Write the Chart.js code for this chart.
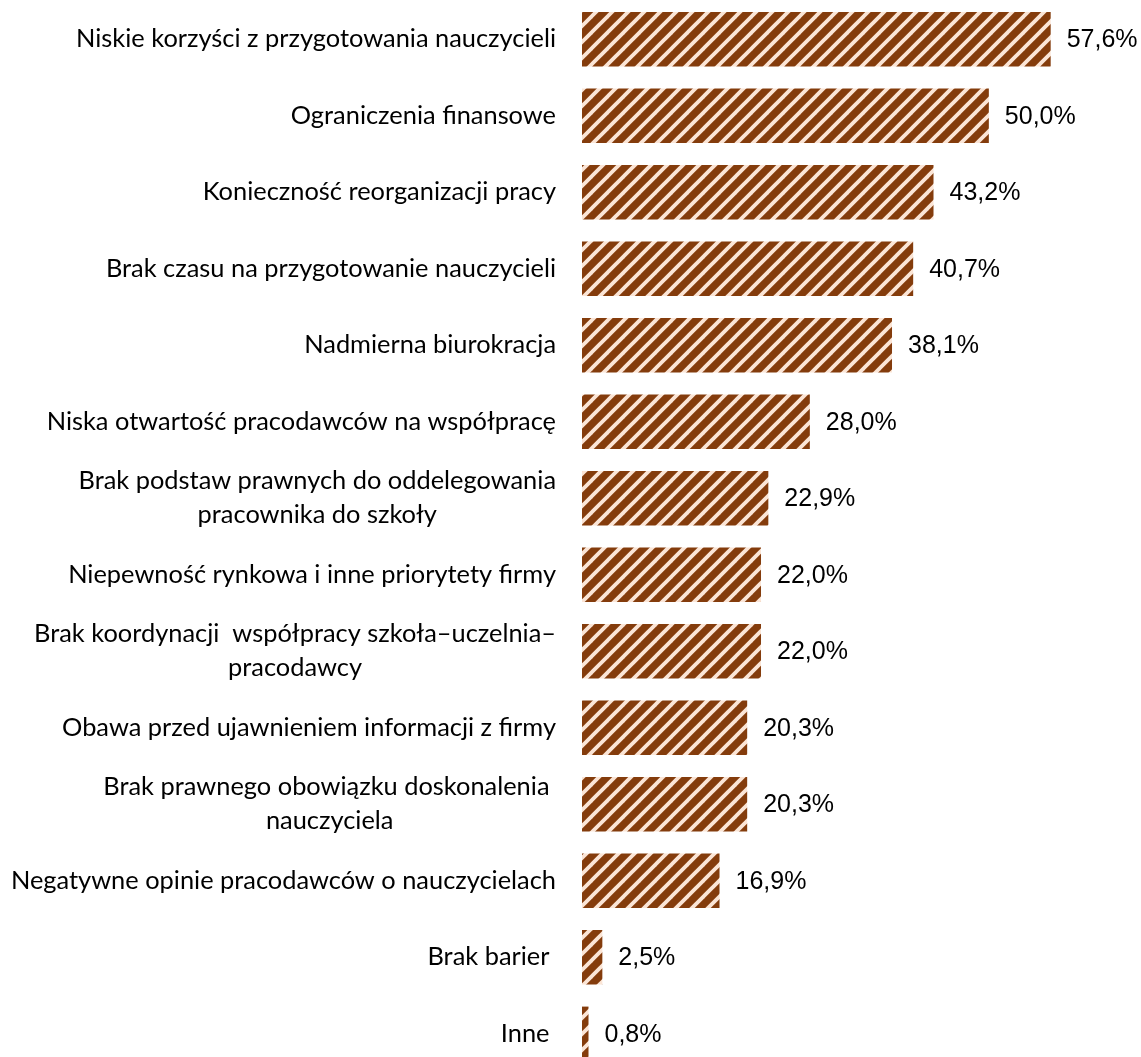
<!DOCTYPE html>
<html lang="pl">
<head>
<meta charset="utf-8">
<title>Bariery współpracy</title>
<script src="https://cdn.jsdelivr.net/npm/chart.js@4.4.1/dist/chart.umd.min.js"></script>
<style>
    html, body {
        margin: 0;
        padding: 0;
        background: #ffffff;
        overflow: hidden;
    }
    #wrap {
        position: relative;
        width: 1141px;
        height: 1072px;
    }
</style>
</head>
<body>
<div id="wrap"><canvas id="chart"></canvas></div>
<script>
/**
 * Category labels, one array of lines per bar.
 */
const categories = [
    ['Niskie korzyści z przygotowania nauczycieli'],
    ['Ograniczenia finansowe'],
    ['Konieczność reorganizacji pracy'],
    ['Brak czasu na przygotowanie nauczycieli'],
    ['Nadmierna biurokracja'],
    ['Niska otwartość pracodawców na współpracę'],
    ['Brak podstaw prawnych do oddelegowania', 'pracownika do szkoły'],
    ['Niepewność rynkowa i inne priorytety firmy'],
    ['Brak koordynacji  współpracy szkoła\u2013uczelnia\u2013', 'pracodawcy'],
    ['Obawa przed ujawnieniem informacji z firmy'],
    ['Brak prawnego obowiązku doskonalenia ', 'nauczyciela'],
    ['Negatywne opinie pracodawców o nauczycielach'],
    ['Brak barier '],
    ['Inne ']
];

/**
 * Share of answers, in percent.
 */
const shares = [57.6, 50.0, 43.2, 40.7, 38.1, 28.0, 22.9, 22.0, 22.0, 20.3, 20.3, 16.9, 2.5, 0.8];

const DARK = '#843c0c';
const LIGHT = '#fbe5d6';
const LABEL_FONT = '25.4px Lato, "Open Sans", sans-serif';
const VALUE_FONT = '25px "Liberation Sans", Arial, sans-serif';

/**
 * Build the wide upward diagonal fill used on the bars.
 */
function stripePattern() {
    const size = 16;
    const tile = document.createElement('canvas');
    tile.width = size;
    tile.height = size;
    const ctx = tile.getContext('2d');
    ctx.fillStyle = DARK;
    ctx.fillRect(0, 0, size, size);
    ctx.strokeStyle = LIGHT;
    ctx.lineWidth = 3.8;
    // three parallel "/" lines (x + y = 0, size, 2 * size) so the tile repeats cleanly
    [0, 1, 2].forEach(k => {
        ctx.beginPath();
        ctx.moveTo(-size, (k + 1) * size);
        ctx.lineTo((k + 1) * size, -size);
        ctx.stroke();
    });
    return ctx.createPattern(tile, 'repeat');
}

/**
 * Draw the category names on the left, lines centred on each other.
 */
const categoryLabels = {
    id: 'categoryLabels',
    afterDraw(chart) {
        const ctx = chart.ctx;
        const yScale = chart.scales.y;
        const right = 556;
        const lineHeight = 34;
        ctx.save();
        ctx.font = LABEL_FONT;
        ctx.fillStyle = '#000000';
        ctx.textAlign = 'center';
        ctx.textBaseline = 'middle';
        categories.forEach((lines, i) => {
            const y = yScale.getPixelForValue(i);
            const width = Math.max(...lines.map(l => ctx.measureText(l).width));
            const cx = right - width / 2;
            const top = y - (lines.length - 1) * lineHeight / 2;
            lines.forEach((line, k) => {
                ctx.fillText(line, cx, top + k * lineHeight);
            });
        });
        ctx.restore();
    }
};

/**
 * Draw the percentage after each bar.
 */
const valueLabels = {
    id: 'valueLabels',
    afterDatasetsDraw(chart) {
        const ctx = chart.ctx;
        const meta = chart.getDatasetMeta(0);
        ctx.save();
        ctx.font = VALUE_FONT;
        ctx.fillStyle = '#000000';
        ctx.textAlign = 'left';
        ctx.textBaseline = 'middle';
        meta.data.forEach((bar, i) => {
            const text = shares[i].toFixed(1).replace('.', ',') + '%';
            ctx.fillText(text, bar.x + 16, bar.y + 1);
        });
        ctx.restore();
    }
};

document.addEventListener('DOMContentLoaded', function() {
    new Chart(document.getElementById('chart').getContext('2d'), {
        type: 'bar',
        data: {
            labels: categories,
            datasets: [{
                data: shares,
                backgroundColor: stripePattern(),
                borderWidth: 0,
                barPercentage: 0.71,
                categoryPercentage: 1
            }]
        },
        options: {
            indexAxis: 'y',
            responsive: true,
            maintainAspectRatio: false,
            animation: false,
            layout: {
                padding: { top: 1, right: 0, bottom: 0, left: 0 }
            },
            plugins: {
                legend: { display: false },
                tooltip: { enabled: false }
            },
            scales: {
                x: {
                    display: false,
                    min: 0,
                    max: 68.7
                },
                y: {
                    grid: { display: false },
                    border: { display: false },
                    ticks: { display: false },
                    afterFit(scale) {
                        scale.width = 582;
                    }
                }
            }
        },
        plugins: [categoryLabels, valueLabels]
    });
});
</script>
</body>
</html>
